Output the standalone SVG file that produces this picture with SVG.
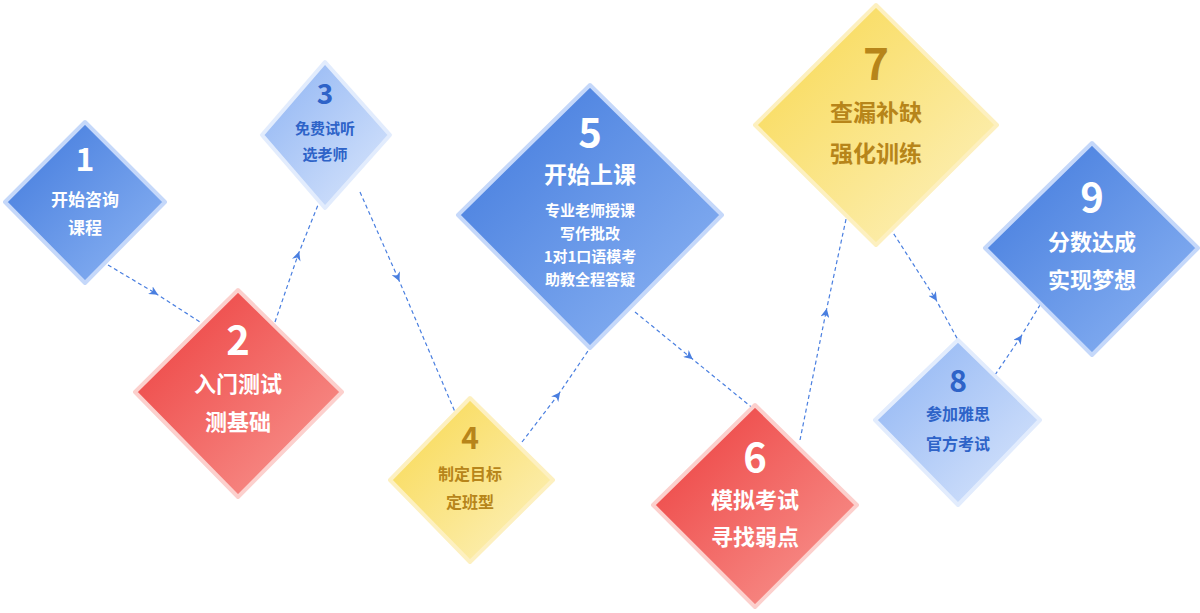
<svg xmlns="http://www.w3.org/2000/svg" width="1200" height="613" viewBox="0 0 1200 613">
<defs>
<linearGradient id="gb" x1="0" y1="0" x2="1" y2="1"><stop offset="0" stop-color="#3f78dc"/><stop offset="1" stop-color="#8fb6f4"/></linearGradient>
<linearGradient id="glb" x1="0" y1="0" x2="1" y2="1"><stop offset="0" stop-color="#8db3f3"/><stop offset="1" stop-color="#dbe7fc"/></linearGradient>
<linearGradient id="gr" x1="0" y1="0" x2="1" y2="1"><stop offset="0" stop-color="#ec3c3c"/><stop offset="1" stop-color="#f99a94"/></linearGradient>
<linearGradient id="gy" x1="0" y1="0" x2="1" y2="1"><stop offset="0" stop-color="#f8d84e"/><stop offset="1" stop-color="#fdf2c2"/></linearGradient>
<marker id="ar" viewBox="0 0 10 10" refX="6" refY="5" markerWidth="9" markerHeight="9" orient="auto" markerUnits="userSpaceOnUse"><path d="M0,0 L10,5 L0,10 L3,5 Z" fill="#4a7fe0"/></marker>
</defs>
<style>
.d{stroke-width:4;stroke-linejoin:round}
.b{fill:url(#gb);stroke:#c5d8fa}
.lb{fill:url(#glb);stroke:#e2ecfd}
.r{fill:url(#gr);stroke:#fcd0cd}
.y{fill:url(#gy);stroke:#fdf0c0}
.c path{fill:none;stroke:#4a7fe0;stroke-width:1.2;stroke-dasharray:4 3}
text{font-family:"Noto Sans CJK SC","Noto Sans",sans-serif;font-weight:bold;text-anchor:middle}
.w{fill:#fff}
.bt{fill:#2e63c8}
.yt{fill:#b7851a}
</style>
<g class="c">
<path d="M108,265 L155,293" marker-end="url(#ar)"/><path d="M155,293 L200,322"/>
<path d="M275,322 L298,255" marker-end="url(#ar)"/><path d="M298,255 L322,195"/>
<path d="M360,192 L398,278" marker-end="url(#ar)"/><path d="M398,278 L455,412"/>
<path d="M522,442 L558,395" marker-end="url(#ar)"/><path d="M558,395 L590,348"/>
<path d="M635,312 L690,357" marker-end="url(#ar)"/><path d="M690,357 L755,410"/>
<path d="M800,440 L826,312" marker-end="url(#ar)"/><path d="M826,312 L848,210"/>
<path d="M890,228 L935,298" marker-end="url(#ar)"/><path d="M935,298 L958,340"/>
<path d="M995,375 L1020,338" marker-end="url(#ar)"/><path d="M1020,338 L1040,305"/>
</g>
<g id="n1"><path class="d b" d="M85,122 L165,202 L85,283 L5,202 Z"/><text class="w" x="85" y="171" font-size="32">1</text><text class="w" x="85" y="206" font-size="17">开始咨询</text><text class="w" x="85" y="234" font-size="17">课程</text></g>
<g id="n2"><path class="d r" d="M238,290 L342,392 L238,497 L135,392 Z"/><text class="w" x="238" y="355" font-size="40">2</text><text class="w" x="238" y="392" font-size="22">入门测试</text><text class="w" x="238" y="430" font-size="22">测基础</text></g>
<g id="n3"><path class="d lb" d="M325,62 L390,135 L325,208 L262,135 Z"/><text class="bt" x="325" y="104" font-size="28">3</text><text class="bt" x="325" y="134" font-size="15">免费试听</text><text class="bt" x="325" y="160" font-size="15">选老师</text></g>
<g id="n4"><path class="d y" d="M470,398 L553,480 L470,562 L390,480 Z"/><text class="yt" x="470" y="449" font-size="30">4</text><text class="yt" x="470" y="480" font-size="16">制定目标</text><text class="yt" x="470" y="508" font-size="16">定班型</text></g>
<g id="n5"><path class="d b" d="M590,85 L722,215 L590,348 L458,215 Z"/><text class="w" x="590" y="147" font-size="40">5</text><text class="w" x="590" y="183" font-size="23">开始上课</text><text class="w" x="590" y="216" font-size="15">专业老师授课</text><text class="w" x="590" y="239" font-size="15">写作批改</text><text class="w" x="590" y="262" font-size="15">1对1口语模考</text><text class="w" x="590" y="285" font-size="15">助教全程答疑</text></g>
<g id="n6"><path class="d r" d="M755,405 L857,505 L755,607 L653,505 Z"/><text class="w" x="755" y="472" font-size="40">6</text><text class="w" x="755" y="508" font-size="22">模拟考试</text><text class="w" x="755" y="545" font-size="22">寻找弱点</text></g>
<g id="n7"><path class="d y" d="M876,5 L997,125 L876,245 L755,125 Z"/><text class="yt" x="876" y="80" font-size="44">7</text><text class="yt" x="876" y="121" font-size="23">查漏补缺</text><text class="yt" x="876" y="162" font-size="23">强化训练</text></g>
<g id="n8"><path class="d lb" d="M958,340 L1040,420 L958,505 L875,420 Z"/><text class="bt" x="958" y="392" font-size="30">8</text><text class="bt" x="958" y="420" font-size="16">参加雅思</text><text class="bt" x="958" y="450" font-size="16">官方考试</text></g>
<g id="n9"><path class="d b" d="M1092,143 L1198,248 L1092,355 L985,248 Z"/><text class="w" x="1092" y="212" font-size="40">9</text><text class="w" x="1092" y="250" font-size="22">分数达成</text><text class="w" x="1092" y="288" font-size="22">实现梦想</text></g>
</svg>
